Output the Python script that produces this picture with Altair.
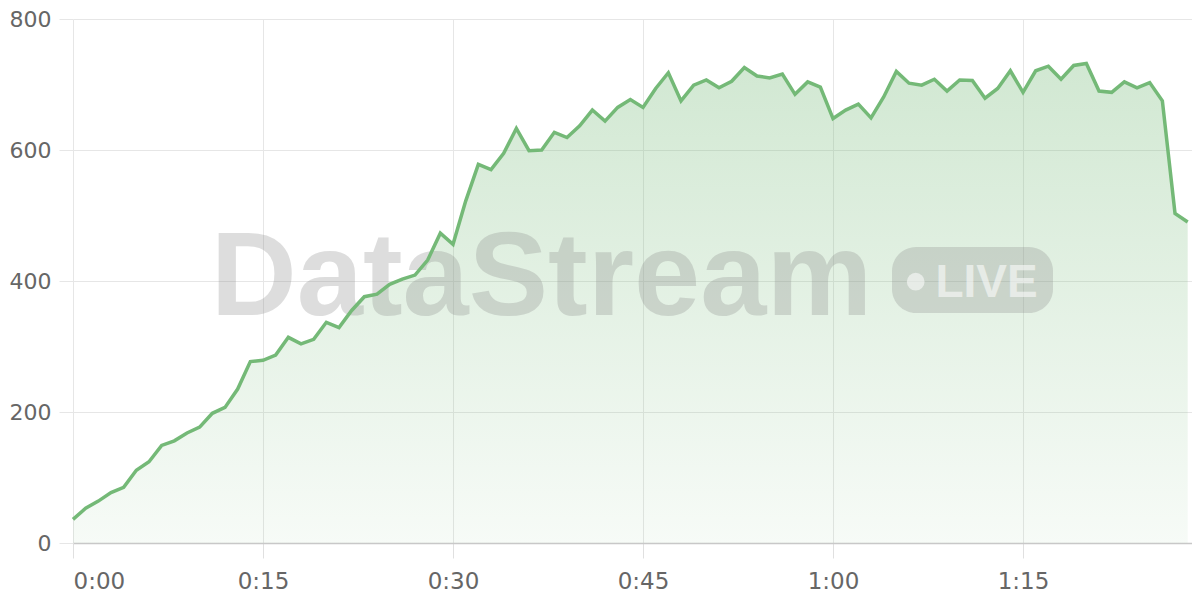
import altair as alt
import pandas as pd

# time in seconds (one sample per second) and the measured values
seconds = list(range(0, 89))
values = [36, 53, 64, 77, 85, 111, 124, 149, 156, 168,
          177, 198, 207, 235, 277, 279, 287, 314, 304, 311,
          337, 329, 355, 376, 380, 395, 403, 409, 432, 473,
          456, 522, 578, 570, 595, 633, 599, 600, 627, 619,
          637, 661, 644, 665, 677, 665, 694, 718, 675, 699,
          707, 695, 705, 726, 713, 710, 716, 685, 704, 696,
          648, 661, 670, 649, 681, 720, 702, 699, 708, 690,
          707, 706, 679, 694, 721, 688, 721, 728, 708, 729,
          732, 690, 688, 704, 695, 703, 675, 503, 490]

x_ticks = [0, 15, 30, 45, 60, 75]
y_ticks = [0, 200, 400, 600, 800]

df = pd.DataFrame({"t": seconds, "v": values})

LINE = "#74b977"
FONT = "DejaVu Sans"

x_enc = alt.X(
    "t:Q",
    scale=alt.Scale(domain=[0, 88.34], nice=False, zero=False),
    axis=alt.Axis(
        values=x_ticks,
        labelExpr="floor(datum.value/60) + ':' + (datum.value % 60 < 10 ? '0' : '') + (datum.value % 60)",
        title=None,
        grid=True,
        gridColor="#e6e6e6",
        tickColor="#e0e0e0",
        tickSize=15,
        domainColor="#c8c8c8",
        domainWidth=1.5,
        labelPadding=12,
        labelFont=FONT,
        labelFontSize=23,
        labelColor="#666666",
    ),
)
y_enc = alt.Y(
    "v:Q",
    scale=alt.Scale(domain=[0, 800], nice=False),
    axis=alt.Axis(
        values=y_ticks,
        title=None,
        grid=True,
        gridColor="#e6e6e6",
        tickColor="#e6e6e6",
        tickSize=14,
        domain=False,
        labelPadding=8,
        labelFont=FONT,
        labelFontSize=22,
        labelColor="#666666",
    ),
)

base = alt.Chart(df)

area = base.mark_area(
    color=alt.Gradient(
        gradient="linear",
        stops=[
            alt.GradientStop(color="rgba(116,185,119,0.06)", offset=0),
            alt.GradientStop(color="rgba(116,185,119,0.33)", offset=1),
        ],
        x1=1, x2=1, y1=1, y2=0,
    )
).encode(x=x_enc, y=y_enc)

line = base.mark_line(color=LINE, strokeWidth=3.5, strokeJoin="miter").encode(x=x_enc, y=y_enc)

wm_df = pd.DataFrame({"label": ["DataStream"]})
badge_df = pd.DataFrame({"label": ["LIVE"]})

wm_text = alt.Chart(wm_df).mark_text(
    font="Liberation Sans", fontWeight="bold", fontSize=119,
    align="center", baseline="alphabetic", color="#888888", opacity=0.28,
).encode(x=alt.value(468.5), y=alt.value(296), text="label:N")

badge = alt.Chart(badge_df).mark_rect(
    color="#888888", opacity=0.28, cornerRadius=24,
).encode(x=alt.value(819), x2=alt.value(980), y=alt.value(228), y2=alt.value(294))

dot = alt.Chart(badge_df).mark_point(
    filled=True, shape="circle", size=314, color="#ffffff", opacity=0.55,
).encode(x=alt.value(842.7), y=alt.value(262.7))

live = alt.Chart(badge_df).mark_text(
    font="Liberation Sans", fontWeight="bold", fontSize=46,
    align="center", baseline="alphabetic", color="#ffffff", opacity=0.55,
).encode(x=alt.value(913.5), y=alt.value(277.7), text="label:N")

chart = alt.layer(area, wm_text, badge, dot, live, line).properties(
    width=1119,
    height=524,
    autosize=alt.AutoSizeParams(type="none"),
    padding={"left": 65, "top": 11, "right": 0, "bottom": 50},
    background="#ffffff",
).configure_view(stroke=None)

chart.save("out.html", embed_options={"renderer": "svg", "actions": False})
